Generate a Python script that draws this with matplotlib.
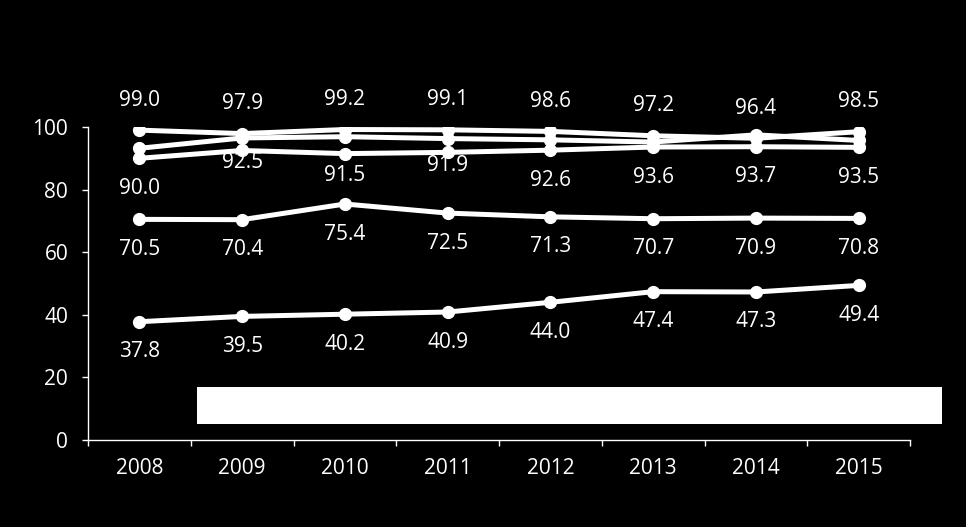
import matplotlib
matplotlib.use("Agg")
import matplotlib.pyplot as plt
from matplotlib.patches import Rectangle

plt.rcParams['font.family'] = ['Open Sans', 'DejaVu Sans']

years = ['2008', '2009', '2010', '2011', '2012', '2013', '2014', '2015']
s_top = [99.0, 97.9, 99.2, 99.1, 98.6, 97.2, 96.4, 98.5]
s_mid = [93.2, 96.5, 96.9, 96.3, 95.9, 95.2, 97.5, 95.7]   # unlabelled series
s_90 = [90.0, 92.5, 91.5, 91.9, 92.6, 93.6, 93.7, 93.5]
s_70 = [70.5, 70.4, 75.4, 72.5, 71.3, 70.7, 70.9, 70.8]
s_40 = [37.8, 39.5, 40.2, 40.9, 44.0, 47.4, 47.3, 49.4]

fig = plt.figure(figsize=(9.66, 5.27), dpi=100, facecolor='black')
ax = fig.add_axes([0.0911, 0.165, 0.851, 0.594])
ax.set_facecolor('black')

x = list(range(len(years)))
for s in [s_40, s_70, s_90, s_mid, s_top]:
    ax.plot(x, s, color='white', lw=3.6, marker='o', ms=8.5, solid_capstyle='round')

# value labels (pixel offsets converted to points)
def label(series, above, special=None):
    special = special or {}
    for i, v in enumerate(series):
        off = special.get(i, 21.6)
        dy = off if above else -off
        ax.annotate(f"{v:.1f}", (i, v), xytext=(0, dy), textcoords='offset points',
                    ha='center', va='center', color='white', fontsize=15)

label(s_top, True)
label(s_90, False, {1: 8.6, 2: 16.0, 3: 9.4})
label(s_70, False)
label(s_40, False)

ax.set_xlim(-0.5, 7.5)
ax.set_ylim(0, 100)
ax.set_yticks([0, 20, 40, 60, 80, 100])
ax.tick_params(axis='y', colors='white', labelsize=15, length=4.3, width=1, pad=10)

ax.set_xticks([i - 0.5 for i in range(9)])
ax.set_xticklabels([])
ax.set_xticks(x, minor=True)
ax.set_xticklabels(years, minor=True)
ax.tick_params(axis='x', which='major', colors='white', length=4.3, width=1)
ax.tick_params(axis='x', which='minor', colors='white', labelsize=15, length=0, pad=13)

for side in ['top', 'right']:
    ax.spines[side].set_visible(False)
for side in ['left', 'bottom']:
    ax.spines[side].set_color('white')
    ax.spines[side].set_linewidth(1)

# empty white legend box
fig.patches.append(Rectangle((197 / 966, 1 - 424 / 527), 745 / 966, 37 / 527,
                             transform=fig.transFigure, facecolor='white', edgecolor='none'))

fig.savefig('out.png', dpi=100, facecolor='black')
